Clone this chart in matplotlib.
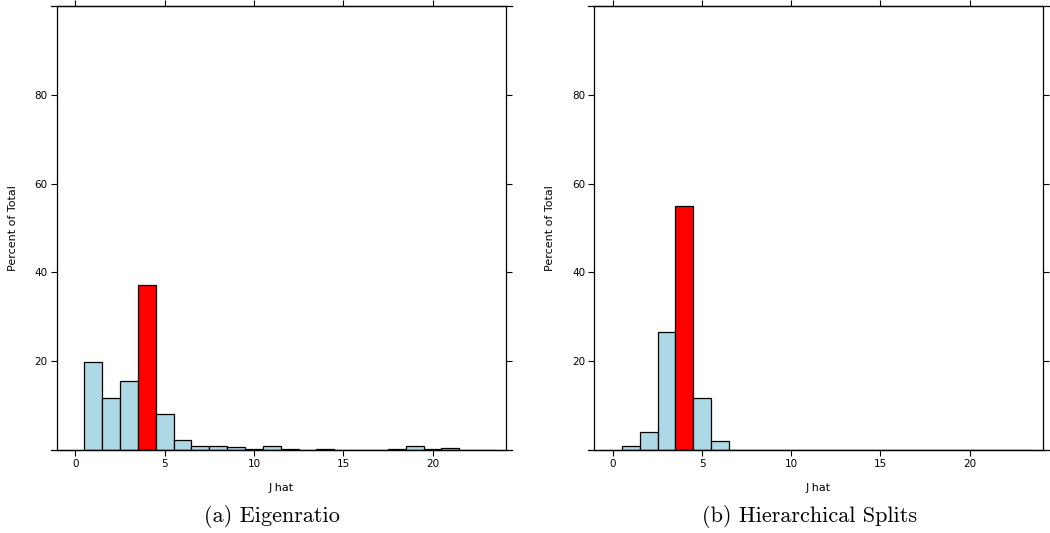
import numpy as np
import matplotlib.pyplot as plt

# bin centres (J hat) and percent of total per bin
j_hat = np.arange(1, 24)
eigen_pct = [19.8, 11.6, 15.6, 37.2, 8.2, 2.2, 1.0, 1.0, 0.6, 0.3, 0.8, 0.3,
             0.0, 0.2, 0.0, 0.1, 0.1, 0.3, 0.8, 0.3, 0.5, 0.1, 0.0]
hier_pct = [1.0, 4.0, 26.5, 55.0, 11.8, 2.0, 0.0, 0.0, 0.0, 0.0, 0.0, 0.0,
            0.0, 0.0, 0.0, 0.0, 0.0, 0.0, 0.0, 0.0, 0.0, 0.0, 0.0]
true_j = 4
captions = ['(a) Eigenratio', '(b) Hierarchical Splits']
x_ticks = [0, 5, 10, 15, 20]
y_ticks = [20, 40, 60, 80]

W, H = 1050, 533
fig = plt.figure(figsize=(W / 100, H / 100), dpi=100)

# axes boxes in pixels: left, right
boxes = [(56.7, 505.7), (594.3, 1042.7)]
top_px, bot_px = 6, 450

for (x0, x1), pct, cap in zip(boxes, [eigen_pct, hier_pct], captions):
    ax = fig.add_axes([x0 / W, (H - bot_px) / H, (x1 - x0) / W, (bot_px - top_px) / H])
    colors = ['#ff0000' if j == true_j else '#add8e6' for j in j_hat]
    ax.bar(j_hat, pct, width=1.0, color=colors, edgecolor='black', linewidth=0.9)
    ax.set_xlim(-1.05, 24.1)
    ax.set_ylim(0, 100)
    ax.set_xticks(x_ticks)
    ax.set_yticks(y_ticks)
    ax.tick_params(direction='out', length=4.5, width=0.8, labelsize=7.5,
                   top=True, right=True, pad=2)
    for s in ax.spines.values():
        s.set_linewidth(0.9)
    # lattice-style top/bottom lines running slightly past the box
    for yy in (0, 1):
        ax.plot([-0.013, 1.013], [yy, yy], transform=ax.transAxes,
                color='black', lw=0.9, clip_on=False)
    ax.set_xlabel('J hat', fontsize=8, labelpad=10)
    ax.set_ylabel('Percent of Total', fontsize=8, labelpad=12)
    fig.text((x0 + x1) / 2 / W - 9 / W, 1 - 516 / H, cap, ha='center', va='center',
             fontsize=16, family='cmr10')

fig.savefig('out.png', dpi=100)
